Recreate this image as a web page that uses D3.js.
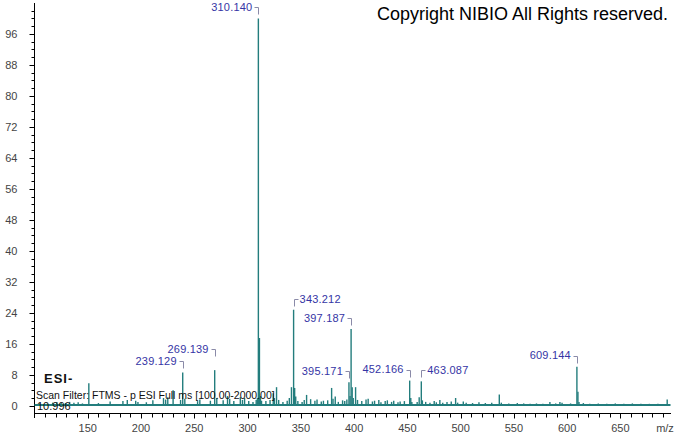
<!DOCTYPE html>
<html>
<head>
  <meta charset="utf-8">
  <title>ESI- spectrum</title>
  <script src="https://d3js.org/d3.v7.min.js"></script>
  <style>
    body { margin: 0; background: #fff; }
    text { font-family: "Liberation Sans", Arial, sans-serif; }
  </style>
</head>
<body>
  <svg width="674" height="434"></svg>
  <script>
    // labelled peaks (m/z, relative abundance)
    const labelMz = [239.129, 269.139, 310.140, 343.212, 395.171, 397.187, 452.166, 463.087, 609.144];
    const labelInt = [8.6, 9.2, 100, 24.8, 6.1, 19.8, 6.5, 6.3, 10.1];

    // other peaks
    const minorMz = [105.0, 112.0, 117.0, 121.0, 125.0, 129.0, 133.0, 137.0, 141.0, 145.0,
      151.0, 160.0, 171.0, 183.0, 187.1, 195.0, 197.1, 205.0, 211.1, 221.1,
      223.1, 225.1, 230.1, 237.1, 241.1, 253.1, 255.2, 265.1, 271.1, 277.1,
      281.2, 283.2, 287.1, 293.2, 295.2, 297.2, 301.1, 305.1, 308.1, 309.2,
      311.143, 312.1, 313.1, 317.2, 321.1, 324.1, 325.2, 327.2, 329.2, 333.2,
      337.2, 339.2, 341.2, 344.2, 345.2, 347.2, 351.2, 353.2, 355.4, 359.2,
      363.2, 365.2, 369.2, 371.2, 375.2, 378.9, 380.2, 382.3, 385.2, 389.2,
      391.2, 393.2, 396.2, 398.2, 399.2, 401.4, 403.2, 407.2, 411.2, 413.2,
      417.2, 419.2, 423.2, 425.2, 429.2, 431.2, 435.2, 437.2, 441.2, 443.2,
      447.2, 453.2, 454.2, 459.2, 461.1, 464.1, 467.2, 471.2, 475.2, 477.2,
      480.5, 483.2, 487.2, 491.2, 495.3, 497.2, 502.5, 505.2, 511.2, 517.2,
      523.2, 529.2, 536.3, 538.2, 545.2, 553.2, 559.2, 565.2, 571.2, 577.2,
      583.8, 589.2, 593.2, 595.2, 603.2, 610.1, 611.1, 615.2, 621.2, 629.2,
      637.2, 645.2, 653.2, 661.2, 669.2, 677.2, 685.2, 693.9];
    const minorInt = [0.6, 0.5, 0.8, 1.0, 0.8, 0.7, 1.0, 0.8, 0.9, 0.6,
      5.8, 0.7, 1.1, 1.2, 1.5, 1.3, 1.0, 0.9, 1.4, 2.0,
      1.6, 2.2, 4.0, 1.5, 1.8, 1.2, 1.6, 1.3, 2.0, 1.4,
      2.5, 1.8, 1.2, 2.2, 1.5, 2.0, 1.2, 1.0, 1.5, 2.0,
      17.5, 2.5, 1.3, 1.2, 1.5, 3.2, 2.0, 4.8, 1.5, 1.0,
      1.3, 2.0, 4.8, 4.6, 2.4, 1.2, 1.0, 1.5, 2.8, 1.7,
      1.3, 1.6, 1.1, 1.3, 1.4, 4.6, 1.8, 2.4, 1.0, 1.4,
      1.2, 1.6, 2.5, 4.8, 2.0, 4.8, 1.5, 1.2, 1.6, 1.8,
      1.1, 1.3, 1.5, 0.9, 1.2, 1.4, 1.0, 1.3, 0.9, 1.1,
      1.2, 2.0, 1.0, 1.0, 2.2, 1.4, 1.0, 0.8, 1.2, 0.9,
      1.5, 0.8, 1.0, 1.1, 2.0, 0.8, 1.1, 0.8, 0.7, 0.9,
      0.7, 0.8, 2.9, 0.8, 0.6, 0.7, 0.6, 0.5, 0.6, 0.5,
      1.0, 0.6, 1.0, 0.8, 0.6, 3.6, 1.0, 0.7, 0.5, 0.6,
      0.5, 0.6, 0.5, 0.6, 0.5, 0.5, 0.5, 1.6];

    const yLabels = [0, 8, 16, 24, 32, 40, 48, 56, 64, 72, 80, 88, 96];
    const xLabels = [150, 200, 250, 300, 350, 400, 450, 500, 550, 600, 650];

    const svg = d3.select("svg");
    const teal = "#237d7d";

    const x = d3.scaleLinear().domain([100, 697]).range([34.5, 670.5]);
    const y = d3.scaleLinear().domain([-2, 104]).range([413.5, 3]);

    // y axis
    const yAxis = svg.append("g").attr("transform", "translate(34.5,0)");
    yAxis.append("line").attr("y1", 3).attr("y2", 418).attr("stroke", "#000");
    yAxis.selectAll("line.minor")
      .data(d3.range(0, 103, 2))
      .enter().append("line")
      .attr("class", "minor")
      .attr("x1", d => d % 8 === 0 ? -5 : -3).attr("x2", 0)
      .attr("y1", d => Math.round(y(d)) + 0.5).attr("y2", d => Math.round(y(d)) + 0.5)
      .attr("stroke", "#000");
    yAxis.selectAll("text")
      .data(yLabels)
      .enter().append("text")
      .attr("x", -17).attr("y", d => y(d))
      .attr("dy", "0.35em")
      .attr("text-anchor", "end")
      .attr("font-size", 11)
      .attr("fill", "#444")
      .text(d => d);

    // x axis
    const xAxis = svg.append("g").attr("transform", "translate(0,413.5)");
    xAxis.append("line").attr("x1", 34.5).attr("x2", 671).attr("stroke", "#000");
    xAxis.selectAll("line.tick")
      .data(d3.range(110, 691, 10))
      .enter().append("line")
      .attr("class", "tick")
      .attr("x1", d => Math.round(x(d)) + 0.5).attr("x2", d => Math.round(x(d)) + 0.5)
      .attr("y1", 0).attr("y2", d => d % 50 === 0 ? 5 : 4)
      .attr("stroke", "#000");
    xAxis.selectAll("text")
      .data(xLabels)
      .enter().append("text")
      .attr("x", d => x(d)).attr("y", 18)
      .attr("text-anchor", "middle")
      .attr("font-size", 11)
      .attr("fill", "#444")
      .text(d => d);
    xAxis.append("text")
      .attr("x", 665).attr("y", 18)
      .attr("text-anchor", "middle")
      .attr("font-size", 11)
      .attr("fill", "#444")
      .text("m/z");

    // baseline
    svg.append("line")
      .attr("x1", x(100)).attr("x2", x(697))
      .attr("y1", y(0.2)).attr("y2", y(0.2))
      .attr("stroke", teal).attr("stroke-width", 2);

    const peaks = minorMz.map((m, i) => ({ mz: m, v: minorInt[i] }))
      .concat(labelMz.map((m, i) => ({ mz: m, v: labelInt[i] })));

    svg.append("g").selectAll("line")
      .data(peaks)
      .enter().append("line")
      .attr("x1", d => x(d.mz)).attr("x2", d => x(d.mz))
      .attr("y1", y(0)).attr("y2", d => y(d.v))
      .attr("stroke", teal).attr("stroke-width", 1.4);

    // peak labels, placed left unless blocked, bumped up on overlap
    const placed = [];
    const lblW = 40, lblH = 12;
    labelMz.forEach((m, i) => {
      const px = x(m), top = y(labelInt[i]);
      let cy = top - 11;
      const boxFor = (side, yy) => side === "left"
        ? { x0: px - 5 - lblW, x1: px - 3, y0: yy - lblH / 2, y1: yy + lblH / 2 }
        : { x0: px + 3, x1: px + 5 + lblW, y0: yy - lblH / 2, y1: yy + lblH / 2 };
      const hits = b => placed.some(p => p.x0 < b.x1 && p.x1 > b.x0 && p.y0 < b.y1 && p.y1 > b.y0);
      const crosses = b => peaks.some(p => x(p.mz) > b.x0 && x(p.mz) < b.x1 && y(p.v) < b.y1);
      let side = "left";
      let b = boxFor(side, cy);
      if (crosses(b) || hits(b)) {
        const r = boxFor("right", cy);
        if (!crosses(r) && !hits(r)) { side = "right"; b = r; }
        else {
          while (hits(b)) { cy -= 1; b = boxFor(side, cy); }
        }
      }
      placed.push(b);
      const g = svg.append("g");
      const hx = side === "left" ? px - 4 : px + 4;
      g.append("path")
        .attr("d", `M${Math.round(hx) + 0.5},${Math.round(cy) + 0.5}H${Math.round(px) + 0.5}V${Math.round(cy) + 7.5}`)
        .attr("fill", "none").attr("stroke", "#8a8aa8");
      g.append("text")
        .attr("x", side === "left" ? px - 6 : px + 6)
        .attr("y", cy).attr("dy", "0.35em")
        .attr("text-anchor", side === "left" ? "end" : "start")
        .attr("font-size", 11)
        .attr("letter-spacing", 0.2)
        .attr("fill", "#3535a5")
        .text(m.toFixed(3));
    });

    // annotations
    svg.append("text").attr("x", 377).attr("y", 20)
      .attr("font-size", 18).attr("fill", "#000")
      .text("Copyright NIBIO All Rights reserved.");
    svg.append("text").attr("x", 44).attr("y", 383)
      .attr("font-size", 13).attr("font-weight", "bold").attr("fill", "#111")
      .attr("letter-spacing", 1)
      .text("ESI-");
    svg.append("text").attr("x", 36).attr("y", 399)
      .attr("font-size", 10.5).attr("fill", "#111")
      .text("Scan Filter: FTMS - p ESI Full ms [100.00-2000.00]");
    svg.append("text").attr("x", 37).attr("y", 410)
      .attr("font-size", 11).attr("fill", "#111")
      .text("10.996");
  </script>
</body>
</html>
